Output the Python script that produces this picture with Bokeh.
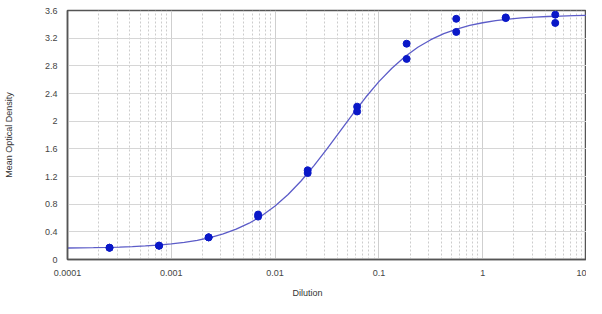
from bokeh.plotting import figure
from bokeh.models import Range1d, FixedTicker, CustomJSTickFormatter, Title
from bokeh.embed import file_html
from bokeh.resources import INLINE

# measured points (3-fold dilution series, duplicates)
dilution = [5.0, 5.0, 1.667, 1.667, 0.556, 0.556, 0.185, 0.185, 0.0617, 0.0617,
            0.0206, 0.0206, 0.00686, 0.00686, 0.00229, 0.00229, 0.000762, 0.000762,
            0.000254, 0.000254]
density = [3.54, 3.42, 3.50, 3.49, 3.48, 3.29, 3.12, 2.90, 2.21, 2.14,
           1.29, 1.25, 0.65, 0.62, 0.32, 0.32, 0.20, 0.20, 0.17, 0.17]

# fitted curve (every 1/8 decade)
curve_x = [1e-4, 1.334e-4, 1.778e-4, 2.371e-4, 3.162e-4, 4.217e-4, 5.623e-4, 7.499e-4,
           1e-3, 1.334e-3, 1.778e-3, 2.371e-3, 3.162e-3, 4.217e-3, 5.623e-3, 7.499e-3,
           1e-2, 1.334e-2, 1.778e-2, 2.371e-2, 3.162e-2, 4.217e-2, 5.623e-2, 7.499e-2,
           1e-1, 1.334e-1, 1.778e-1, 2.371e-1, 3.162e-1, 4.217e-1, 5.623e-1, 7.499e-1,
           1.0, 1.334, 1.778, 2.371, 3.162, 4.217, 5.623, 7.499, 10.0]
curve_y = [0.166, 0.168, 0.171, 0.175, 0.180, 0.187, 0.196, 0.209,
           0.226, 0.248, 0.278, 0.318, 0.370, 0.438, 0.525, 0.636,
           0.773, 0.940, 1.135, 1.358, 1.600, 1.854, 2.107, 2.349,
           2.571, 2.766, 2.931, 3.068, 3.178, 3.265, 3.332, 3.384,
           3.423, 3.453, 3.475, 3.492, 3.504, 3.513, 3.520, 3.525, 3.529]

x_tick_values = [1e-4, 1e-3, 1e-2, 1e-1, 1.0, 10.0]
x_tick_labels = ["0.0001", "0.001", "0.01", "0.1", "1", "10"]
x_minor_values = [m * d for d in [1e-4, 1e-3, 1e-2, 1e-1, 1.0] for m in [2, 3, 4, 5, 6, 7, 8, 9]]
y_tick_values = [0, 0.4, 0.8, 1.2, 1.6, 2.0, 2.4, 2.8, 3.2, 3.6]
y_tick_labels = ["0", "0.4", "0.8", "1.2", "1.6", "2", "2.4", "2.8", "3.2", "3.6"]

FONT = "Liberation Sans"

p = figure(width=586, height=306, x_axis_type="log",
           x_range=Range1d(1e-4, 10), y_range=Range1d(0, 3.6),
           output_backend="svg", toolbar_location=None,
           min_border_left=64, min_border_right=0, min_border_top=10, min_border_bottom=47)

p.background_fill_color = "white"
p.border_fill_color = "white"
p.outline_line_color = "#555555"
p.outline_line_width = 1.5

p.xaxis.ticker = FixedTicker(ticks=x_tick_values, minor_ticks=x_minor_values)
p.yaxis.ticker = FixedTicker(ticks=y_tick_values)

p.xaxis.formatter = CustomJSTickFormatter(args=dict(vals=x_tick_values, labs=x_tick_labels), code="""
let best = 0, bd = 1e9;
for (let i = 0; i < vals.length; i++) {
  const d = Math.abs(Math.log10(vals[i]) - Math.log10(tick));
  if (d < bd) { bd = d; best = i; }
}
return labs[best];
""")
p.yaxis.formatter = CustomJSTickFormatter(args=dict(vals=y_tick_values, labs=y_tick_labels), code="""
let best = 0, bd = 1e9;
for (let i = 0; i < vals.length; i++) {
  const d = Math.abs(vals[i] - tick);
  if (d < bd) { bd = d; best = i; }
}
return labs[best];
""")

for ax in (p.xaxis, p.yaxis):
    ax.axis_line_color = "#555555"
    ax.axis_line_width = 1.5
    ax.major_tick_line_color = None
    ax.minor_tick_line_color = None
    ax.major_label_text_font = FONT
    ax.major_label_text_font_size = "9px"
    ax.major_label_text_color = "#444444"
    ax.major_label_standoff = 4
    ax.axis_label_text_font = FONT
    ax.axis_label_text_font_size = "9px"
    ax.axis_label_text_font_style = "normal"
    ax.axis_label_text_color = "#333333"

p.yaxis.axis_label = "Mean Optical Density"
p.yaxis.axis_label_standoff = 28

p.xgrid.grid_line_color = "#cfcfcf"
p.xgrid.minor_grid_line_color = "#cccccc"
p.xgrid.minor_grid_line_dash = "2 2"
p.ygrid.grid_line_color = "#d6d6d6"

p.line(curve_x, curve_y, line_color="#5c5cc8", line_width=1.3)
p.scatter(dilution, density, size=7, fill_color="#0a18c8", line_color="#0a18c8")

xt = Title(text="Dilution", align="left", offset=225, standoff=14,
           text_font=FONT, text_font_size="9px", text_font_style="normal", text_color="#333333")
p.add_layout(xt, "below")

open("out.html", "w").write(file_html(p, INLINE))
